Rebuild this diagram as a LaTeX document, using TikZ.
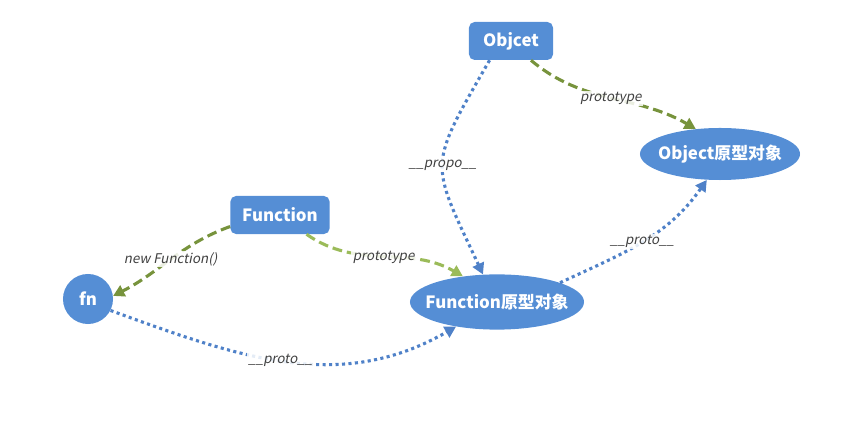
\documentclass[tikz,border=0pt]{standalone}
\usepackage{fontspec}
\setmainfont{Noto Sans CJK SC}[AutoFakeSlant=0.2]
\usetikzlibrary{arrows.meta,shapes.geometric}
\definecolor{nodeblue}{RGB}{85,142,213}
\definecolor{lineblue}{RGB}{79,129,200}
\definecolor{darkgreen}{RGB}{119,147,60}
\definecolor{lightgreen}{RGB}{155,187,89}
\definecolor{labelgray}{RGB}{64,64,64}

\begin{document}
\begin{tikzpicture}[x=0.025cm,y=0.025cm,
            >={Triangle[length=8pt,width=8.5pt]},
            box/.style={rectangle,rounded corners=4pt,fill=nodeblue,text=white,
                font=\bfseries\fontsize{12}{14}\selectfont,minimum height=0.95cm,inner sep=0pt},
            proto/.style={ellipse,fill=nodeblue,text=white,
                font=\bfseries\fontsize{12}{14}\selectfont,inner xsep=-12pt,inner ysep=0pt},
            protoline/.style={->,lineblue,line width=2.2pt,dash pattern=on 2.2pt off 2.4pt},
            protoprop/.style={->,line width=2.2pt,dash pattern=on 7pt off 3.5pt},
            lbl/.style={font=\itshape\fontsize{9.5}{11}\selectfont,text=labelgray,
                fill=white,fill opacity=0.85,text opacity=1,inner sep=1pt}]
            \useasboundingbox (0,0) rectangle (856,427);

            \node[box,minimum width=2.1cm] (obj) at (511,386) {Objcet};
            \node[box,minimum width=2.48cm] (fun) at (280,212) {Function};
            \node[proto,minimum width=4cm,minimum height=1.3cm] (objp) at (720,273) {Object原型对象};
            \node[proto,minimum width=4.35cm,minimum height=1.38cm] (funp) at (497,125) {Function原型对象};
            \node[circle,fill=nodeblue,text=white,font=\bfseries\fontsize{12}{14}\selectfont,
                minimum size=1.25cm,inner sep=0pt] (fn) at (88,128) {fn};

            \draw[protoprop,darkgreen] (obj.-44) to[out=-40,in=150] node[lbl] {prototype} (objp.134);
            \draw[protoline] (obj.-138) to[out=-120,in=115,looseness=1.5] node[lbl] {\_\_propo\_\_} (funp.117);
            \draw[protoprop,darkgreen] (fun.193) to[out=200,in=27] node[lbl] {new Function()} (fn.7);
            \draw[protoprop,lightgreen] (fun.-36) to[out=-35,in=150] node[lbl] {prototype} (funp.143);
            \draw[protoline] (funp.17) to[out=25,in=-125] node[lbl] {\_\_proto\_\_} (objp.243);
            \draw[protoline] (fn.-27) to[out=-20,in=210] node[lbl,pos=0.48] {\_\_proto\_\_} (funp.211);
        \end{tikzpicture}
\end{document}
